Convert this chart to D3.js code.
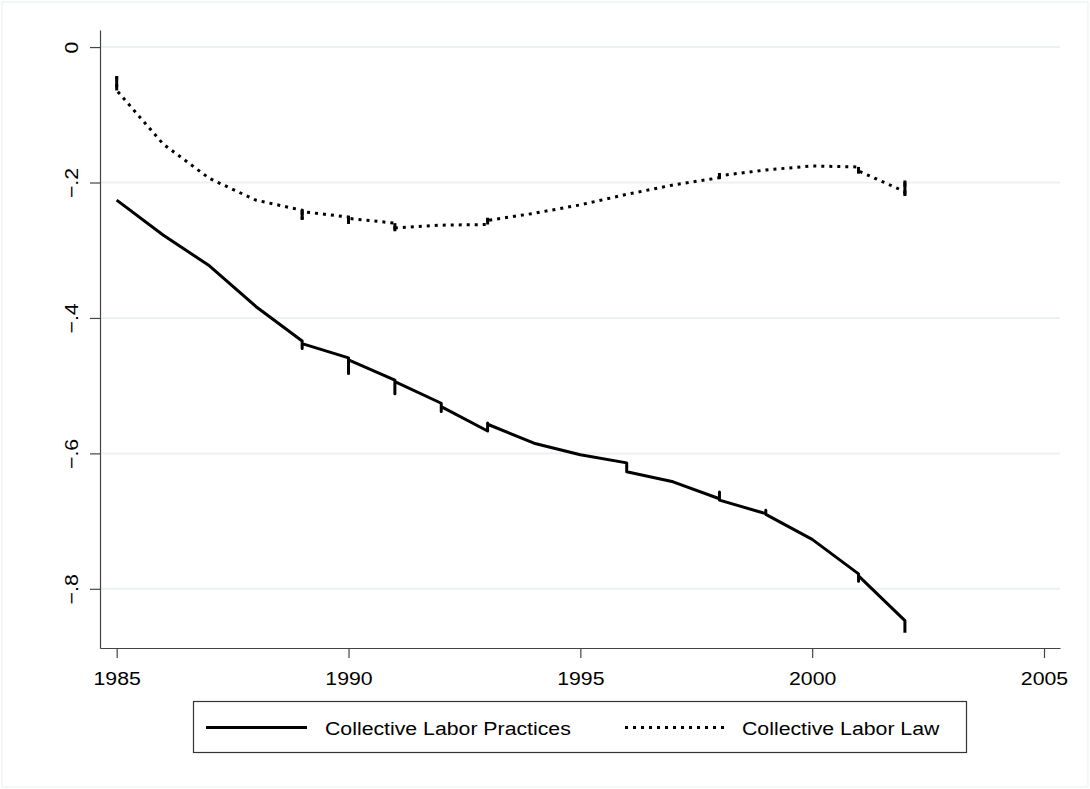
<!DOCTYPE html>
<html>
<head>
<meta charset="utf-8">
<script src="https://cdn.jsdelivr.net/npm/d3@7"></script>
<style>
body { margin: 0; background: #fff; }
svg { display: block; font-family: "Liberation Sans", Arial, sans-serif; }
</style>
</head>
<body>
<script>
// one entry per year; a year with several values is drawn as a short vertical run
var years = [1985,1986,1987,1988,1989,1990,1991,1992,1993,1994,1995,1996,1997,1998,1999,2000,2001,2002];

var practices = [
  [-0.226], [-0.2775], [-0.323], [-0.383],
  [-0.434,-0.445,-0.438], [-0.459,-0.482,-0.462], [-0.492,-0.512,-0.494],
  [-0.526,-0.538,-0.531], [-0.567,-0.555,-0.557], [-0.585], [-0.602],
  [-0.614,-0.627], [-0.642], [-0.667,-0.657,-0.669], [-0.689,-0.684,-0.690],
  [-0.727], [-0.778,-0.789,-0.781], [-0.847,-0.865]
];

var law = [
  [-0.043,-0.064], [-0.143], [-0.194], [-0.226],
  [-0.241,-0.255,-0.243], [-0.251,-0.261,-0.253], [-0.260,-0.272,-0.267],
  [-0.263], [-0.262,-0.252,-0.256], [-0.2455], [-0.233], [-0.2175], [-0.2037],
  [-0.193,-0.186,-0.19], [-0.1815], [-0.1756], [-0.177,-0.187,-0.183],
  [-0.2135,-0.197,-0.22]
];

var xTicks = [1985,1990,1995,2000,2005];
var yTicks = [0,-0.2,-0.4,-0.6,-0.8];
var seriesNames = ["Collective Labor Practices","Collective Labor Law"];

var totalWidth = 1090, totalHeight = 789;
var plot = {left:100, right:1060, top:30, bottom:648};
var stretch = "scale(1.12,1)";   // Stata's text runs a bit wider than Arial

var svg = d3.select("body").append("svg")
    .attr("width",totalWidth)
    .attr("height",totalHeight);

// faint frame round the graph region
svg.append("rect")
    .attr("x",2).attr("y",2)
    .attr("width",totalWidth-4).attr("height",totalHeight-4)
    .attr("fill","none")
    .attr("stroke","#e8eff1");

var xScale = d3.scaleLinear().domain([1984.64,2005.345]).range([plot.left,plot.right]);
var yScale = d3.scaleLinear().domain([-0.8874,0.0252]).range([plot.bottom,plot.top]);

// grid
svg.append("g").selectAll("line")
    .data(yTicks)
    .enter().append("line")
    .attr("x1",plot.left).attr("x2",plot.right)
    .attr("y1",function(d){return yScale(d);})
    .attr("y2",function(d){return yScale(d);})
    .attr("stroke","#eaf2f3")
    .attr("stroke-width",2);

var fmtY = function(d){ return d === 0 ? "0" : d3.format(".1f")(d).replace("0.","."); };

var xAxis = d3.axisBottom(xScale).tickValues(xTicks).tickFormat(d3.format("d")).tickSize(10).tickSizeOuter(0).tickPadding(14);
var xAxisGroup = svg.append("g").attr("transform","translate(0,"+plot.bottom+")");
xAxis(xAxisGroup);

var yAxis = d3.axisLeft(yScale).tickValues(yTicks).tickFormat(fmtY).tickSize(10).tickSizeOuter(0);
var yAxisGroup = svg.append("g").attr("transform","translate("+plot.left+",0)");
yAxis(yAxisGroup);

svg.selectAll(".domain, .tick line").attr("stroke","#444").attr("stroke-width",1.2);
xAxisGroup.selectAll("text")
    .attr("font-size",19).attr("fill","#000").attr("font-family","Liberation Sans, Arial, sans-serif")
    .attr("transform",stretch);
yAxisGroup.selectAll("text")
    .attr("font-size",19).attr("fill","#000").attr("font-family","Liberation Sans, Arial, sans-serif")
    .attr("text-anchor","middle")
    .attr("x",0).attr("dy",0)
    .attr("transform","translate(-22,0) rotate(-90) "+stretch);

function toPoints(vals){
  var pts = [];
  years.forEach(function(yr,i){
    vals[i].forEach(function(v){ pts.push([yr,v]); });
  });
  return pts;
}

var line = d3.line()
    .x(function(d){return xScale(d[0]);})
    .y(function(d){return yScale(d[1]);});

svg.append("path")
    .datum(toPoints(practices))
    .attr("d",line)
    .attr("fill","none")
    .attr("stroke","#000")
    .attr("stroke-width",3)
    .attr("stroke-linejoin","round");

svg.append("path")
    .datum(toPoints(law))
    .attr("d",line)
    .attr("fill","none")
    .attr("stroke","#000")
    .attr("stroke-width",3)
    .attr("stroke-dasharray","3,5");

// solid runs where a year has several law values
svg.append("g").selectAll("line")
    .data(years.map(function(yr,i){return {yr:yr, v:law[i]};}).filter(function(d){return d.v.length>1;}))
    .enter().append("line")
    .attr("x1",function(d){return xScale(d.yr);})
    .attr("x2",function(d){return xScale(d.yr);})
    .attr("y1",function(d){return yScale(d3.max(d.v));})
    .attr("y2",function(d){return yScale(d3.min(d.v));})
    .attr("stroke","#000")
    .attr("stroke-width",3);

// legend
var legend = svg.append("g");
legend.append("rect")
    .attr("x",193.5).attr("y",701.5)
    .attr("width",773).attr("height",51)
    .attr("fill","#fff")
    .attr("stroke","#333")
    .attr("stroke-width",1.2);

var legendItems = [
  {x:206, dash:null, tx:325},
  {x:625, dash:"3,5", tx:742}
];
legendItems.forEach(function(it,i){
  legend.append("line")
      .attr("x1",it.x).attr("x2",it.x+101)
      .attr("y1",727.5).attr("y2",727.5)
      .attr("stroke","#000")
      .attr("stroke-width",3)
      .attr("stroke-dasharray",it.dash);
  legend.append("text")
      .attr("transform","translate("+it.tx+",734.5) "+stretch)
      .attr("font-size",19)
      .text(seriesNames[i]);
});
</script>
</body>
</html>
